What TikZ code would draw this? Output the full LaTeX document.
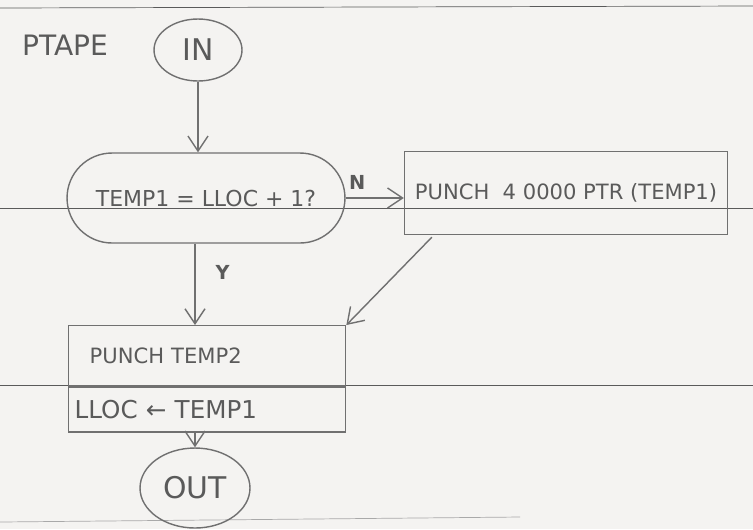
\documentclass[tikz,border=0pt]{standalone}
\usepackage{fontspec}
\setmainfont{DejaVu Sans}
\usetikzlibrary{arrows.meta,positioning,shapes.geometric,calc}
\definecolor{pencil}{HTML}{707070}
\definecolor{ink}{HTML}{5A5A5A}
\definecolor{paper}{HTML}{F4F3F1}

\begin{document}
\begin{tikzpicture}[x=0.02cm,y=-0.02cm,>={Straight Barb[length=3mm,width=4mm]},
  font=\fontsize{12}{14}\selectfont,
  every node/.style={text=ink},
  term/.style={draw=pencil,thick,ellipse,inner sep=0pt,font=\fontsize{17}{19}\selectfont},
  decide/.style={draw=pencil,thick,rounded corners=0.9cm,minimum width=5.56cm,minimum height=1.8cm},
  box/.style={draw=pencil,thick,minimum width=6.46cm,minimum height=1.66cm},
  proc/.style={draw=pencil,thick,minimum width=5.54cm,text width=4.7cm,inner xsep=0.42cm,align=left},
  lab/.style={font=\bfseries\fontsize{11}{13}\selectfont},
  ruled/.style={draw=ink,thin}]
\fill[paper] (0,0) rectangle (753,529);
\useasboundingbox (0,0) rectangle (753,529);
% ruled lines of the sheet
\draw[ruled] (0,8) -- (753,6);
\draw[ruled] (0,208) -- (753,208);
\draw[ruled] (0,385) -- (753,385);
\draw[pencil!60] (0,522) -- (520,517);
% flowchart
\node[font=\fontsize{16}{18}\selectfont] (title) at (65,45) {PTAPE};
\node[term,minimum width=1.76cm,minimum height=1.24cm] (in) at (198,50) {IN};
\node[decide] (test) at (206,198) {\fontsize{12.5}{14}\selectfont TEMP1 = LLOC + 1?};
\node[box] (punch) at (566,193) {PUNCH\ \ 4 0000 PTR (TEMP1)};
\node[proc,minimum height=1.2cm,anchor=north west] (ptop) at (68,325) {PUNCH TEMP2};
\node[proc,minimum height=0.9cm,anchor=north west,inner xsep=0.1cm,text width=5.3cm,
  font=\fontsize{14}{16}\selectfont] (pbot) at (ptop.south west) {LLOC ← TEMP1};
\node[term,minimum width=2.2cm,minimum height=1.6cm] (out) at (195,488) {OUT};
% connectors
\draw[pencil,thick,->] (in.south) -- (in.south |- test.north);
\draw[pencil,thick,->] (test.east) -- (test.east -| punch.west)
  node[lab,pos=0.2,above=1pt] {N};
\draw[pencil,thick,->] (test.south -| out) -- (ptop.north -| out)
  node[lab,pos=0.35,right=8pt] {Y};
\draw[pencil,thick,->] ($(punch.south west)+(28,2)$) -- (ptop.north east);
\draw[pencil,thick,->] (pbot.south -| out) -- (out);
\end{tikzpicture}
\end{document}
